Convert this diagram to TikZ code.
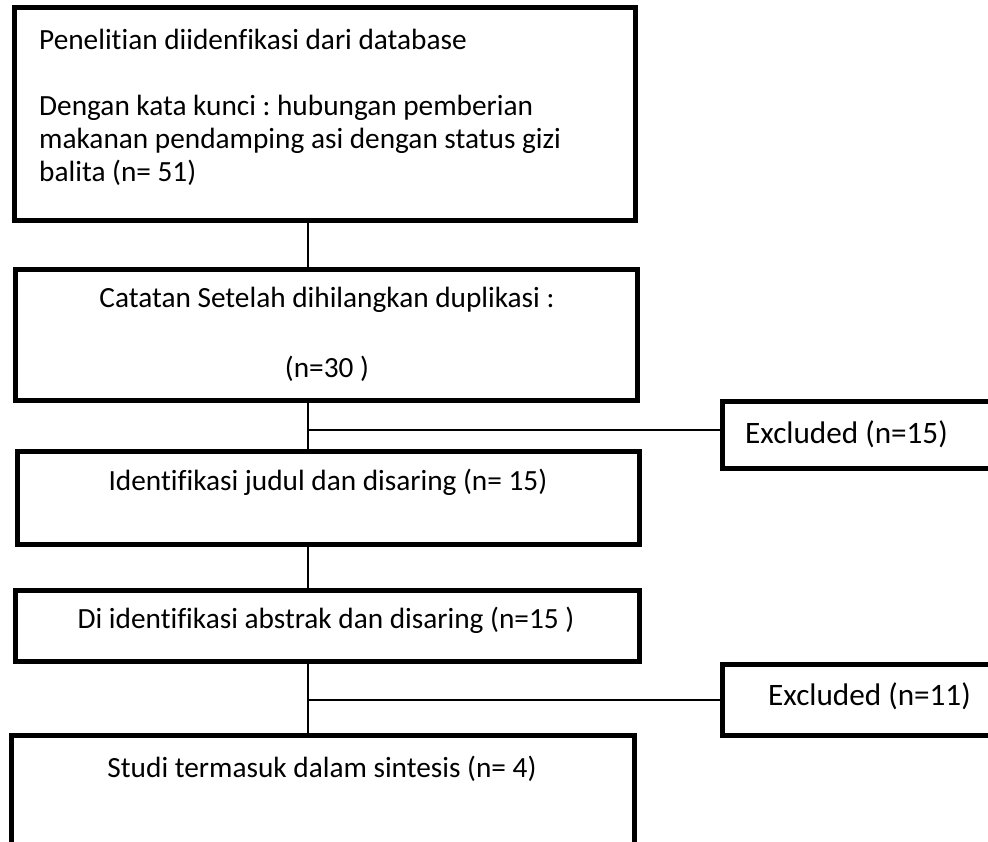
\documentclass[tikz,border=0pt]{standalone}
\usepackage{fontspec}
\setmainfont{Carlito}[Ligatures=NoCommon]
\usepackage{tikz}
\frenchspacing

\begin{document}
\begin{tikzpicture}[x=1pt,y=-1pt,
  box/.style={draw, line width=5pt, inner sep=0pt, anchor=north west},
  txt/.style={inner sep=0pt, font=\fontsize{29.3}{33}\selectfont},
  bigtxt/.style={inner sep=0pt, font=\fontsize{31.2}{33}\selectfont},
  link/.style={line width=1.6pt}]
\useasboundingbox (0,0) rectangle (988,842);
\clip (0,0) rectangle (988,842);
\node [box, minimum width=621pt, minimum height=213pt] (ident) at (12,5) {};
\node [box, minimum width=622pt, minimum height=131pt] (dup) at (13,267) {};
\node [box, minimum width=622pt, minimum height=93pt] (judul) at (15,449) {};
\node [box, minimum width=624pt, minimum height=71pt] (abstrak) at (13,588) {};
\node [box, minimum width=623pt, minimum height=200pt] (sintesis) at (9,733) {};
\node [box, minimum width=400pt, minimum height=67pt] (exclA) at (720,399) {};
\node [box, minimum width=400pt, minimum height=71pt] (exclB) at (720,662) {};
\node [txt, anchor=base west, align=left] (identtxt) at (39,182)
  {Penelitian diidenfikasi dari database\\[33pt]
   Dengan kata kunci : hubungan pemberian\\
   makanan pendamping asi dengan status gizi\\
   balita (n= 51)};
\node [txt, anchor=base, align=center] (duptxt) at (327,377)
  {Catatan Setelah dihilangkan duplikasi :\\[37pt](n=30 )};
\node [txt, anchor=base] (judultxt) at (328,490) {Identifikasi judul dan disaring (n= 15)};
\node [txt, anchor=base] (abstraktxt) at (326,628) {Di identifikasi abstrak dan disaring (n=15 )};
\node [txt, anchor=base] (sintesistxt) at (322,777) {Studi termasuk dalam sintesis (n= 4)};
\node [bigtxt, anchor=base west] (exclAtxt) at (745,443) {Excluded (n=15)};
\node [bigtxt, anchor=base west] (exclBtxt) at (768,705) {Excluded (n=11)};
\coordinate (spine) at (308,0);
\draw [link] (ident.south -| spine) -- (dup.north -| spine);
\draw [link] (dup.south -| spine) -- (judul.north -| spine);
\draw [link] (judul.south -| spine) -- (abstrak.north -| spine);
\draw [link] (abstrak.south -| spine) -- (sintesis.north -| spine);
\draw [link] ([yshift=5pt]exclA.west -| spine) -- ([yshift=5pt]exclA.west);
\draw [link] (exclB.west -| spine) -- (exclB.west);
\end{tikzpicture}
\end{document}
